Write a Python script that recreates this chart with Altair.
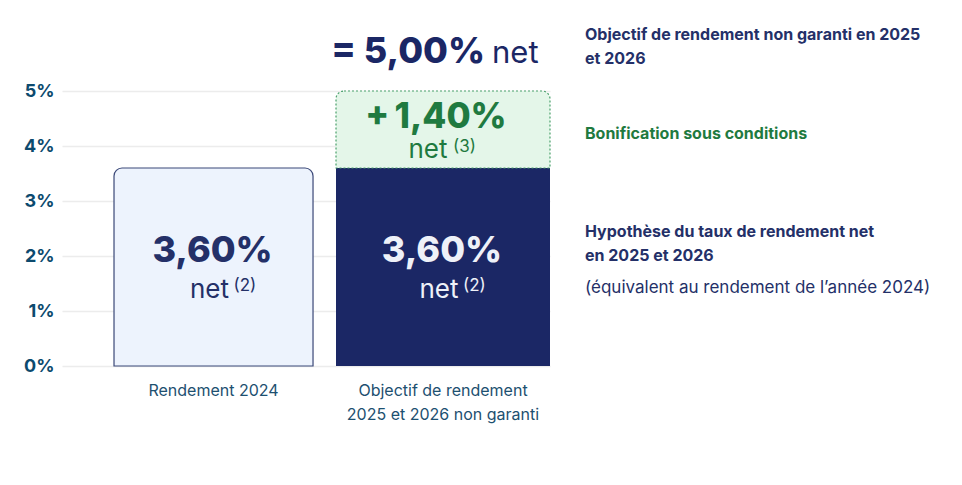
import altair as alt
import pandas as pd

# ---------------- data ----------------
categories = ["Rendement 2024", "Objectif de rendement|2025 et 2026 non garanti"]
base_values = [3.60, 3.60]
base_notes = ["(2)", "(2)"]
bonus_value = 1.40
bonus_note = "(3)"
total_value = 5.00
y_ticks = [0, 1, 2, 3, 4, 5]
side_title = "Objectif de rendement non garanti en 2025\net 2026"
side_bonus = "Bonification sous conditions"
side_base = "Hypothèse du taux de rendement net\nen 2025 et 2026"
side_base_sub = "(équivalent au rendement de l’année 2024)"

# ---------------- style ----------------
FONT = "Inter"
NAVY = "#1b2765"
NAVY_TEXT = "#243068"
TEAL = "#0c4a6e"
XLAB = "#1d5070"
GREEN = "#1f7a40"
LIGHT_FILL = "#edf3fd"
LIGHT_STROKE = "#3b4878"
BONUS_FILL = "#e4f6e9"
BONUS_STROKE = "#4aa06c"
HEAVY = 800


def fr(v):
    return f"{v:.2f}".replace(".", ",") + "%"


cat1, cat2 = categories
top_cat = cat2

bars = pd.DataFrame({"cat": categories, "y0": [0.0, 0.0], "y1": base_values})
bonus_df = pd.DataFrame({"cat": [top_cat], "y0": [base_values[1]], "y1": [base_values[1] + bonus_value]})

x_scale = alt.Scale(domain=categories, paddingInner=0.0675, paddingOuter=0.097, align=1)
y_scale = alt.Scale(domain=[0, 5], nice=False)

x_axis = alt.Axis(
    title=None, labelAngle=0, labelExpr="split(datum.label, '|')",
    labelFont=FONT, labelFontSize=16, labelColor=XLAB, labelPadding=16,
    labelLineHeight=24, labelLimit=0, domain=False, ticks=False, grid=False,
)
y_axis = alt.Axis(
    title=None, values=y_ticks, labelExpr="datum.value + '%'",
    labelFont=FONT, labelFontWeight="bold", labelFontSize=18, labelColor=TEAL,
    labelPadding=8, domain=False, ticks=False, grid=True,
    gridColor="#ececec", gridWidth=1.6,
)


def X():
    return alt.X("cat:N", sort=categories, scale=x_scale, axis=x_axis)


def Y(field):
    return alt.Y(f"{field}:Q", scale=y_scale, axis=y_axis)


bar1 = alt.Chart(bars[bars.cat == cat1]).mark_bar(
    width=alt.RelativeBandSize(0.93), fill=LIGHT_FILL, stroke=LIGHT_STROKE,
    strokeWidth=1.2, cornerRadiusTopLeft=8, cornerRadiusTopRight=8,
).encode(x=X(), y=Y("y1"), y2="y0:Q")

bar2 = alt.Chart(bars[bars.cat == cat2]).mark_bar(
    fill=NAVY, strokeWidth=0,
).encode(x=X(), y=Y("y1"), y2="y0:Q")

bonus_bar = alt.Chart(bonus_df).mark_bar(
    fill=BONUS_FILL, stroke=BONUS_STROKE, strokeWidth=1.2, strokeDash=[2, 2],
    cornerRadiusTopLeft=8, cornerRadiusTopRight=8,
).encode(x=X(), y=Y("y1"), y2="y0:Q")

# value labels inside bars
vals = pd.DataFrame({
    "cat": categories,
    "y": [v / 2 for v in base_values],
    "t": [fr(v) for v in base_values],
    "n": base_notes,
    "c": [NAVY_TEXT, "#eef1f8"],
})
val_big = alt.Chart(vals).mark_text(
    font=FONT, fontWeight=HEAVY, fontSize=36, baseline="alphabetic", dy=-5, dx=-1,
).encode(x=X(), y=Y("y"), text="t:N", color=alt.Color("c:N", scale=None))
val_net = alt.Chart(vals).mark_text(
    font=FONT, fontSize=26, baseline="alphabetic", dy=31, dx=-4,
).encode(x=X(), y=Y("y"), text=alt.value("net"), color=alt.Color("c:N", scale=None))
val_sup = alt.Chart(vals).mark_text(
    font=FONT, fontSize=17, baseline="alphabetic", align="left", dy=24, dx=20,
).encode(x=X(), y=Y("y"), text="n:N", color=alt.Color("c:N", scale=None))

# bonus labels
bon = pd.DataFrame({
    "cat": [top_cat],
    "y": [base_values[1] + bonus_value / 2],
    "t": ["+\u2009" + fr(bonus_value)],
    "n": [bonus_note],
})
bon_big = alt.Chart(bon).mark_text(
    font=FONT, fontWeight=HEAVY, fontSize=35, baseline="alphabetic", color=GREEN,
    dy=-2, dx=-7,
).encode(x=X(), y=Y("y"), text="t:N")
bon_net = alt.Chart(bon).mark_text(
    font=FONT, fontSize=26, baseline="alphabetic", color=GREEN, dy=28, dx=-15,
).encode(x=X(), y=Y("y"), text=alt.value("net"))
bon_sup = alt.Chart(bon).mark_text(
    font=FONT, fontSize=17, baseline="alphabetic", align="left", color=GREEN,
    dy=22, dx=10,
).encode(x=X(), y=Y("y"), text="n:N")

# total label above
tot = pd.DataFrame({"cat": [top_cat], "y": [total_value], "t": ["= " + fr(total_value)]})
tot_big = alt.Chart(tot).mark_text(
    font=FONT, fontWeight=HEAVY, fontSize=36, baseline="alphabetic", align="right",
    color=NAVY, dy=-28, dx=42,
).encode(x=X(), y=Y("y"), text="t:N")
tot_net = alt.Chart(tot).mark_text(
    font=FONT, fontSize=31, baseline="alphabetic", align="left",
    color=NAVY, dy=-28, dx=49,
).encode(x=X(), y=Y("y"), text=alt.value("net"))

# side annotations
SIDE_X = 523
side1 = alt.Chart(pd.DataFrame({"y": [total_value], "t": [side_title]})).mark_text(
    font=FONT, fontWeight="bold", fontSize=16, align="left", baseline="middle",
    lineBreak="\n", lineHeight=24, color=NAVY_TEXT, dy=-56,
).encode(x=alt.value(SIDE_X), y=Y("y"), text="t:N")
side2 = alt.Chart(pd.DataFrame({"y": [base_values[1] + bonus_value / 2], "t": [side_bonus]})).mark_text(
    font=FONT, fontWeight="bold", fontSize=16, align="left", baseline="middle",
    color=GREEN, dy=4.5,
).encode(x=alt.value(SIDE_X), y=Y("y"), text="t:N")
side3 = alt.Chart(pd.DataFrame({"y": [base_values[1] / 2], "t": [side_base]})).mark_text(
    font=FONT, fontWeight="bold", fontSize=16, align="left", baseline="middle",
    lineBreak="\n", lineHeight=24, color=NAVY_TEXT, dy=-35,
).encode(x=alt.value(SIDE_X), y=Y("y"), text="t:N")
side4 = alt.Chart(pd.DataFrame({"y": [base_values[1] / 2], "t": [side_base_sub]})).mark_text(
    font=FONT, fontSize=17, align="left", baseline="middle",
    color=NAVY_TEXT, dy=21,
).encode(x=alt.value(SIDE_X), y=Y("y"), text="t:N")

chart = alt.layer(
    bar1, bar2, bonus_bar,
    val_big, val_net, val_sup,
    bon_big, bon_net, bon_sup,
    tot_big, tot_net,
    side1, side2, side3, side4,
).properties(
    width=488, height=275,
    autosize=alt.AutoSizeParams(type="none"),
    padding={"left": 54, "top": 83, "right": 404, "bottom": 100},
    background="white",
).configure_view(stroke=None)

chart.save("out.html", embed_options={"renderer": "svg", "actions": False})
